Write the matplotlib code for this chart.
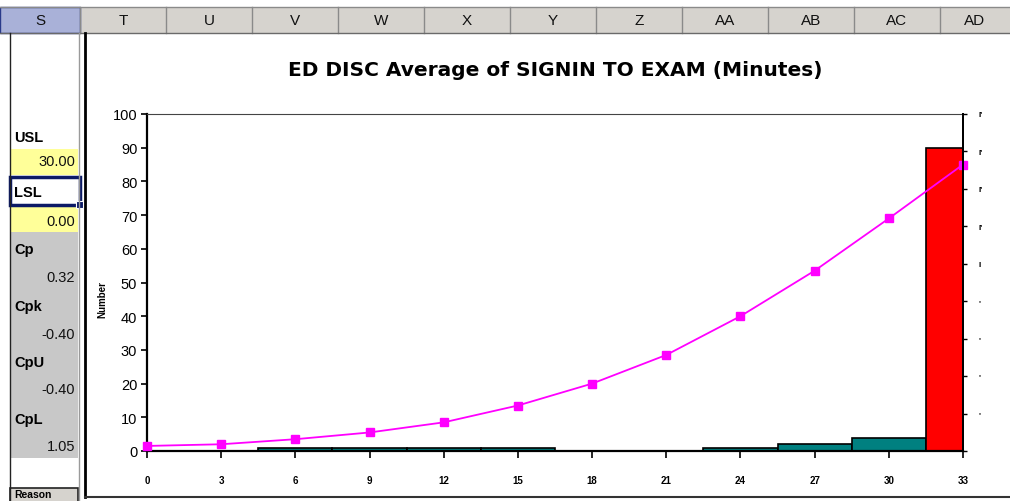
"""Excel-style capability histogram: ED DISC average of SIGNIN TO EXAM"""

import matplotlib.pyplot as plt
from matplotlib.patches import Rectangle
from matplotlib.lines import Line2D

plt.rcParams['font.family'] = ['Liberation Sans', 'DejaVu Sans']

W, H = 1010, 502  # figure size in pixels

# chart data
bins = [0, 3, 6, 9, 12, 15, 18, 21, 24, 27, 30, 33]
counts = [0, 0, 1, 1, 1, 1, 0, 0, 1, 2, 4, 90]
curve = [1.5, 2, 3.5, 5.5, 8.5, 13.5, 20, 28.5, 40, 53.5, 69, 85]
right_labels = ["", "'", "'", "'", "'", "I", "I'", "I'", "I'", "I'"]

title = "ED DISC Average of SIGNIN TO EXAM (Minutes)"

# spreadsheet surroundings
col_names = ["S", "T", "U", "V", "W", "X", "Y", "Z", "AA", "AB", "AC", "AD"]
col_edges = [0, 80, 166, 252, 338, 424, 510, 596, 682, 768, 854, 940, 1030]
cell_labels = ["USL", "LSL", "Cp", "Cpk", "CpU", "CpL"]
cell_values = ["30.00", "0.00", "0.32", "-0.40", "-0.40", "1.05"]


def fx(x):
    return x / W


def fy(y):
    return 1 - y / H


def rect(x0, y0, x1, y1, **kw):
    fig.add_artist(Rectangle((fx(x0), fy(y1)), (x1 - x0) / W, (y1 - y0) / H,
                             transform=fig.transFigure, **kw))


def line(xs, ys, **kw):
    fig.add_artist(Line2D([fx(x) for x in xs], [fy(y) for y in ys],
                          transform=fig.transFigure, **kw))


def text(x, y, s, **kw):
    fig.text(fx(x), fy(y), s, **kw)


fig = plt.figure(figsize=(W / 100, H / 100), dpi=100)
fig.patch.set_facecolor("white")

# ---- column header row
rect(0, 8, W, 34, facecolor="#d6d3ce", edgecolor="none")
rect(0, 8, 80, 34, facecolor="#a9b1d8", edgecolor="#2a3a8a", linewidth=1)
for i, name in enumerate(col_names):
    x0, x1 = col_edges[i], col_edges[i + 1]
    if i > 0:
        line([x0, x0], [8, 34], color="#8a8a8a", linewidth=1)
    text((x0 + min(x1, W)) / 2, 21, name, ha="center", va="center",
         fontsize=11, color="#111111")
line([0, W], [8, 8], color="#8a8a8a", linewidth=1)
line([0, W], [34, 34], color="#6a6a6a", linewidth=1)

# ---- left column cells
line([10, 10], [34, H], color="#222222", linewidth=1)
line([79, 79], [34, H], color="#9a9a9a", linewidth=1)
rect(10, 150, 78, 176, facecolor="#ffff99", edgecolor="none")
rect(10, 208, 78, 233, facecolor="#ffff99", edgecolor="none")
rect(10, 233, 78, 459, facecolor="#c8c8c8", edgecolor="none")
label_y = [138, 193, 250, 307, 363, 420]
value_y = [162, 222, 278, 335, 390, 447]
for lab, val, ly, vy in zip(cell_labels, cell_values, label_y, value_y):
    text(14, ly, lab, ha="left", va="center", fontsize=10.5,
         fontweight="bold", color="black")
    text(75, vy, val, ha="right", va="center", fontsize=10.5, color="#111111")
# active cell border around LSL
rect(10, 178, 80, 206, facecolor="none", edgecolor="#0c1a66", linewidth=2.5)
rect(76, 202, 83, 209, facecolor="#0c1a66", edgecolor="white", linewidth=0.8)
# button at bottom
rect(10, 489, 78, 510, facecolor="#d6d3ce", edgecolor="#222222", linewidth=1.2)
text(14, 495, "Reason", ha="left", va="center", fontsize=7.5,
     fontweight="bold", color="black")

# ---- chart object frame
line([85, 85], [34, 498], color="black", linewidth=2)
line([85, W], [498, 498], color="#333333", linewidth=1.5)

# ---- chart
ax = fig.add_axes([fx(147), fy(452), (963 - 147) / W, (452 - 115) / H])
colors = ["red" if b == bins[-1] else "#008080" for b in bins]
ax.bar(bins, counts, width=3, color=colors, edgecolor="black", linewidth=1.2,
       zorder=2)
ax.plot(bins, curve, color="#ff00ff", linewidth=1.3, marker="s",
        markersize=5.5, markeredgecolor="#ff00ff", zorder=3, clip_on=False)
ax.set_xlim(0, 33)
ax.set_ylim(0, 100)
ax.set_xticks(bins)
ax.set_xticklabels([str(b) for b in bins], fontsize=7, fontweight="bold")
ax.set_yticks(range(0, 101, 10))
ax.set_yticklabels([str(v) for v in range(0, 101, 10)], fontsize=10.5)
ax.tick_params(axis="x", direction="out", length=5, width=1.2, pad=12)
ax.tick_params(axis="y", direction="out", length=4, width=1.2, pad=3)
for s in ["left", "bottom"]:
    ax.spines[s].set_linewidth(1.6)
ax.spines["top"].set_linewidth(0.8)
ax.spines["top"].set_color("#444444")
ax.spines["right"].set_linewidth(1.4)

ax2 = ax.twinx()
ax2.set_ylim(0, 9)
ax2.set_yticks(range(10))
ax2.set_yticklabels(right_labels, fontsize=6, fontweight="bold")
ax2.tick_params(axis="y", direction="out", length=3, width=1, pad=8)
for s in ["top", "left", "bottom"]:
    ax2.spines[s].set_visible(False)
ax2.spines["right"].set_linewidth(1.4)

text(102, 300, "Number", rotation=90, ha="center", va="center", fontsize=7,
     fontweight="bold")
text(555, 70, title, ha="center", va="center", fontsize=14.5,
     fontweight="bold", family=["DejaVu Sans"])

fig.savefig("out.png", dpi=100)
